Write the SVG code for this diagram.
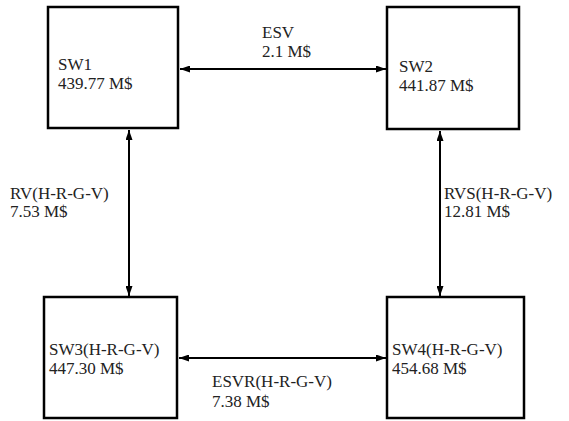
<svg xmlns="http://www.w3.org/2000/svg" width="569" height="421" viewBox="0 0 569 421">
<style>
.box{fill:none;stroke:#000;stroke-width:2.5}
.edge{stroke:#000;stroke-width:2;fill:none}
text{font-family:Liberation Serif,serif;font-size:17px;fill:#222}
</style>
<defs>
<marker id="ah" viewBox="0 0 10 7" refX="10" refY="3.5" markerWidth="10" markerHeight="7" markerUnits="userSpaceOnUse" orient="auto-start-reverse">
<path d="M0,0 L10,3.5 L0,7 z" fill="#000"/>
</marker>
</defs>
<rect width="569" height="421" fill="#fff"/>
<g id="connectors">
<line id="e-sw1-sw2" class="edge" x1="180" y1="69" x2="386" y2="69" marker-start="url(#ah)" marker-end="url(#ah)"/>
<line id="e-sw1-sw3" class="edge" x1="129" y1="130" x2="129" y2="296" marker-start="url(#ah)" marker-end="url(#ah)"/>
<line id="e-sw2-sw4" class="edge" x1="440" y1="131" x2="440" y2="296" marker-start="url(#ah)" marker-end="url(#ah)"/>
<line id="e-sw3-sw4" class="edge" x1="179" y1="358" x2="386" y2="358" marker-start="url(#ah)" marker-end="url(#ah)"/>
</g>
<g id="labels">
<text x="262" y="38">ESV</text>
<text x="262" y="57">2.1 M$</text>
<text x="10" y="199">RV(H-R-G-V)</text>
<text x="10" y="217">7.53 M$</text>
<text x="444" y="199">RVS(H-R-G-V)</text>
<text x="444" y="217">12.81 M$</text>
<text x="212" y="387">ESVR(H-R-G-V)</text>
<text x="212" y="407">7.38 M$</text>
</g>
<g id="sw1"><rect class="box" x="48" y="7" width="130" height="121"/><text x="58" y="70">SW1</text><text x="58" y="89">439.77 M$</text></g>
<g id="sw2"><rect class="box" x="387" y="7" width="132" height="122"/><text x="399" y="72">SW2</text><text x="399" y="91">441.87 M$</text></g>
<g id="sw3"><rect class="box" x="44" y="297" width="133" height="121"/><text x="49" y="355">SW3(H-R-G-V)</text><text x="49" y="374">447.30 M$</text></g>
<g id="sw4"><rect class="box" x="387" y="297" width="137" height="121"/><text x="392" y="355">SW4(H-R-G-V)</text><text x="392" y="374">454.68 M$</text></g>
</svg>
